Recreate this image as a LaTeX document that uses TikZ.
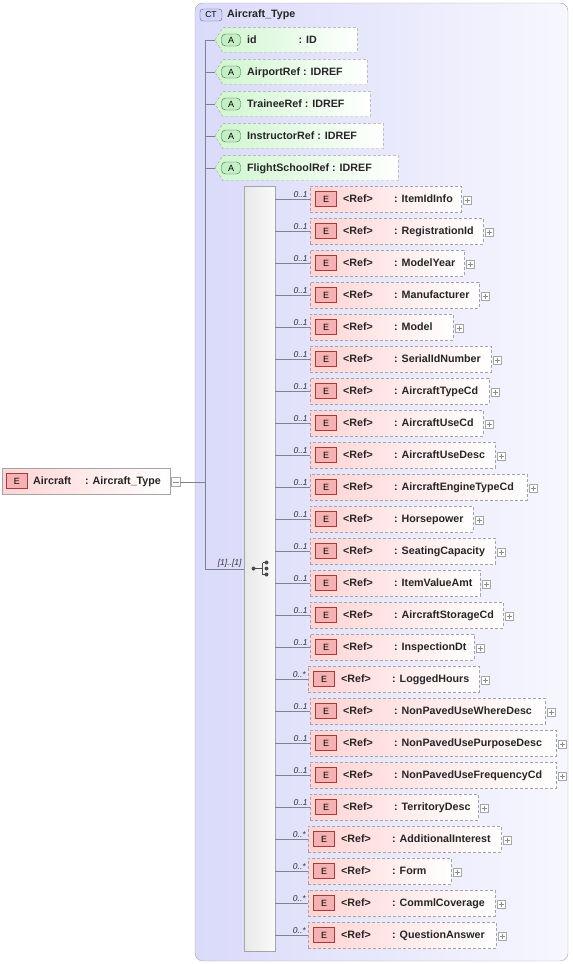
\documentclass[tikz,border=0pt]{standalone}
\usepackage{fontspec}
\setmainfont{Liberation Sans}
\usetikzlibrary{positioning}

\definecolor{framegray}{RGB}{165,165,165}
\definecolor{linegray}{RGB}{130,130,140}
\definecolor{ctleft}{RGB}{218,218,250}
\definecolor{ctright}{RGB}{247,247,255}
\definecolor{ctbadge}{RGB}{212,212,248}
\definecolor{ctborder}{RGB}{90,90,150}
\definecolor{elpink}{RGB}{255,212,212}
\definecolor{ebadge}{RGB}{246,178,178}
\definecolor{eborder}{RGB}{165,60,60}
\definecolor{atgreen}{RGB}{208,245,208}
\definecolor{abadge}{RGB}{196,238,196}
\definecolor{aborder}{RGB}{60,115,60}

\tikzset{
  lbl/.style={font={\fontsize{10.7}{12}\selectfont\bfseries}, text=black!85, inner sep=0pt, anchor=west, text height=8pt, text depth=2pt},
  mult/.style={font={\fontsize{8.5}{10}\selectfont\itshape}, text=black!80, inner sep=1pt},
  conn/.style={draw=linegray, line width=0.6pt},
  ctframe/.style={draw=framegray, rounded corners=8pt, left color=ctleft, right color=ctright, inner sep=0pt},
  ctbadgebox/.style={draw=ctborder, fill=ctbadge, rounded corners=3pt, minimum width=22pt, minimum height=12pt, inner sep=0pt, font={\fontsize{8.5}{10}\selectfont}},
  seqbar/.style={draw=framegray, left color=black!9, right color=black!2, inner sep=0pt},
  mainbox/.style={draw=framegray, left color=elpink, right color=white, minimum height=26pt, inner sep=0pt},
  elbox/.style={draw=framegray, dash pattern=on 3pt off 2pt, left color=elpink, right color=white, minimum height=26pt, inner sep=0pt, anchor=west},
  ebadgebox/.style={draw=eborder, fill=ebadge, minimum width=21pt, minimum height=15pt, inner sep=0pt, font={\fontsize{9}{10}\selectfont}},
  attbox/.style={draw=framegray, dash pattern=on 3pt off 2pt, left color=atgreen, right color=white},
  abadgebox/.style={draw=aborder, fill=abadge, rounded corners=4pt, minimum width=19pt, minimum height=12pt, inner sep=0pt, font={\fontsize{9}{10}\selectfont}},
  plusbox/.style={draw=black!35, fill=white, minimum size=8pt, inner sep=0pt,
    path picture={\draw[black!45, line width=0.5pt]
      ([xshift=1.5pt]path picture bounding box.west) -- ([xshift=-1.5pt]path picture bounding box.east)
      ([yshift=-1.5pt]path picture bounding box.north) -- ([yshift=1.5pt]path picture bounding box.south);}},
  minusbox/.style={draw=black!35, fill=white, minimum size=9pt, inner sep=0pt,
    path picture={\draw[black!45, line width=0.5pt]
      ([xshift=1.5pt]path picture bounding box.west) -- ([xshift=-1.5pt]path picture bounding box.east);}},
}

\begin{document}
\begin{tikzpicture}[x=1pt, y=-1pt]
  \useasboundingbox (0,0) rectangle (573,964);

  % complex type frame
  \node[ctframe, minimum width=373pt, minimum height=958pt] (ctbox) at (381.5,482) {};
  \node[ctbadgebox] (ct) at (211,15) {CT};
  \node[lbl] (cttitle) at (227,14) {Aircraft\_Type};

  % global element
  \node[mainbox, minimum width=168pt] (main) at (86,481) {};
  \node[ebadgebox] (mainE) at (17,481) {E};
  \node[lbl] (mainname) at (33,481) {Aircraft};
  \node[lbl] (maintype) at (85,481) {: Aircraft\_Type};
  \node[minusbox] (minus) at (175.5,482) {};

  % trunk
  \coordinate (trunktop) at (205,40);
  \coordinate (trunkbot) at (205,569);

  % sequence compositor
  \node[seqbar, minimum width=31pt, minimum height=765pt] (seq) at (259.5,568.5) {};
  \begin{scope}[shift={(seq.center)}, black!70, line width=0.8pt]
    \draw (-6,0) -- (3,0) (3,-6) -- (3,6) (3,-6) -- (7,-6) (3,6) -- (7,6);
    \fill (-6,0) circle (2) (7,-6) circle (2) (7,0) circle (2) (7,6) circle (2);
  \end{scope}

  \draw[conn] (minus.east) -- (trunktop |- minus.east);
  \draw[conn] (trunktop) -- (trunkbot) -- node[mult, pos=1, above left, xshift=-1pt] {[1]..[1]} (seq.west |- trunkbot);

  % attributes
  \foreach \an/\at/\rt [count=\i from 0] in {{id\hspace{39pt}}/ID/357, AirportRef/IDREF/367, TraineeRef/IDREF/370, InstructorRef/IDREF/383, FlightSchoolRef/IDREF/398}{
    \pgfmathsetmacro\cy{40+32*\i}
    \node[inner sep=0pt, minimum width=\rt-215, minimum height=25pt, anchor=west] (a\i) at (215,\cy) {};
    \path[attbox] (a\i.west) -- ([xshift=8pt]a\i.north west) -- (a\i.north east) -- (a\i.south east) -- ([xshift=8pt]a\i.south west) -- cycle;
    \node[abadgebox] (g\i) at (231,\cy) {A};
    \node[lbl] (an\i) at (247,\cy) {\an{} : \at};
    \draw[conn] (trunktop |- a\i.west) -- (a\i.west);
  }

  % child elements
  \foreach \nm/\rt/\mx/\lf [count=\i from 0] in {
    ItemIdInfo/461/1/310, RegistrationId/483/1/310, ModelYear/464/1/310, Manufacturer/479/1/310,
    Model/453/1/310, SerialIdNumber/491/1/310, AircraftTypeCd/489/1/310, AircraftUseCd/483/1/310,
    AircraftUseDesc/495/1/310, AircraftEngineTypeCd/527/1/310, Horsepower/473/1/310, SeatingCapacity/495/1/310,
    ItemValueAmt/480/1/310, AircraftStorageCd/503/1/310, InspectionDt/474/1/310, LoggedHours/479/*/308,
    NonPavedUseWhereDesc/545/1/310, NonPavedUsePurposeDesc/556/1/310, NonPavedUseFrequencyCd/556/1/310, TerritoryDesc/478/1/310,
    AdditionalInterest/501/*/308, Form/451/*/308, CommlCoverage/495/*/308, QuestionAnswer/496/*/308}{
    \pgfmathsetmacro\cy{199+32*\i}
    \node[elbox, minimum width=\rt-\lf] (e\i) at (\lf,\cy) {};
    \node[ebadgebox] (b\i) at (\lf+16,\cy) {E};
    \node[lbl] (r\i) at (\lf+33,\cy) {<Ref>};
    \node[lbl] (n\i) at (\lf+84,\cy) {: \nm};
    \node[plusbox] (p\i) at (\rt+6,\cy+1) {};
    \draw[conn] (seq.east |- e\i.west) -- node[mult, pos=1, above left, xshift=-1pt] {0..\mx} (e\i.west);
  }
\end{tikzpicture}
\end{document}
